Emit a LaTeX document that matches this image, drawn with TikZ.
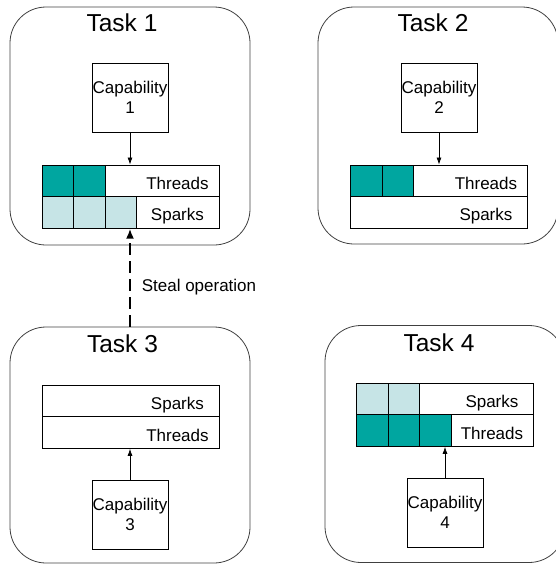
\documentclass[tikz,border=0pt]{standalone}
\usepackage{fontspec}
\setmainfont{Liberation Sans}
\usetikzlibrary{arrows.meta}

\definecolor{threadcol}{RGB}{0,166,160}
\definecolor{sparkcol}{RGB}{198,228,230}

\tikzset{
  task/.style={draw=black!75, line width=0.8pt, rounded corners=36pt, minimum width=240pt},
  tasktitle/.style={font=\fontsize{24.5pt}{28pt}\selectfont, inner sep=0pt},
  capbox/.style={draw, line width=0.8pt, minimum width=76pt, minimum height=69pt, align=center, inner sep=0pt, font=\fontsize{17pt}{20pt}\selectfont},
  queue/.style={draw, line width=0.9pt, minimum width=177pt, minimum height=31.6pt, inner sep=0pt},
  cell/.style={draw, line width=0.9pt, minimum width=31.6pt, minimum height=31.6pt, inner sep=0pt, anchor=west},
  lbl/.style={font=\fontsize{17pt}{20pt}\selectfont, inner sep=0pt},
  rowlbl/.style={lbl, anchor=base},
  link/.style={-{Latex[length=7pt,width=5pt]}, line width=0.7pt},
  stealarrow/.style={-{Latex[length=10pt,width=8pt]}, line width=2pt, dash pattern=on 12pt off 6pt}
}

\begin{document}
\begin{tikzpicture}[x=1pt,y=-1pt]
  \clip (0,0) rectangle (556,565);

  % the four tasks
  \node[task, minimum height=238pt] (task1) at (130,126) {};
  \node[task, minimum height=237pt] (task2) at (438,125.5) {};
  \node[task, minimum height=236pt] (task3) at (130,445) {};
  \node[task, minimum height=237pt] (task4) at (445,444) {};

  \node[tasktitle] (title1) at (122,22.5) {Task 1};
  \node[tasktitle] (title2) at (433,22.5) {Task 2};
  \node[tasktitle] (title3) at (122.5,344) {Task 3};
  \node[tasktitle] (title4) at (439,343) {Task 4};

  % capabilities
  \node[capbox] (cap1) at (130,97.5) {Capability\\1};
  \node[capbox] (cap2) at (439,97.5) {Capability\\2};
  \node[capbox] (cap3) at (130,514.5) {Capability\\3};
  \node[capbox] (cap4) at (445,512.5) {Capability\\4};

  % task 1 queues
  \node[queue] (thr1) at (130.5,180.8) {};
  \node[queue] (spk1) at (130.5,212.4) {};
  \foreach \i in {0,1}
    \node[cell, fill=threadcol] (thrcell1\i) at ([xshift=\i*31.6pt]thr1.west) {};
  \foreach \i in {0,1,2}
    \node[cell, fill=sparkcol] (spkcell1\i) at ([xshift=\i*31.6pt]spk1.west) {};
  \node[rowlbl] (thrlbl1) at ([xshift=-42pt,yshift=7.5pt]thr1.south east) {Threads};
  \node[rowlbl] (spklbl1) at ([xshift=-42pt,yshift=8pt]spk1.south east) {Sparks};

  % task 2 queues
  \node[queue] (thr2) at (439,180.8) {};
  \node[queue] (spk2) at (439,212.4) {};
  \foreach \i in {0,1}
    \node[cell, fill=threadcol] (thrcell2\i) at ([xshift=\i*31.6pt]thr2.west) {};
  \node[rowlbl] (thrlbl2) at ([xshift=-42pt,yshift=7.5pt]thr2.south east) {Threads};
  \node[rowlbl] (spklbl2) at ([xshift=-42pt,yshift=8pt]spk2.south east) {Sparks};

  % task 3 queues
  \node[queue] (spk3) at (130.5,401) {};
  \node[queue] (thr3) at (130.5,432.6) {};
  \node[rowlbl] (spklbl3) at ([xshift=-42pt,yshift=8pt]spk3.south east) {Sparks};
  \node[rowlbl] (thrlbl3) at ([xshift=-42pt,yshift=7.5pt]thr3.south east) {Threads};

  % task 4 queues
  \node[queue] (spk4) at (445,399) {};
  \node[queue] (thr4) at (445,430.6) {};
  \foreach \i in {0,1}
    \node[cell, fill=sparkcol] (spkcell4\i) at ([xshift=\i*31.6pt]spk4.west) {};
  \foreach \i in {0,1,2}
    \node[cell, fill=threadcol] (thrcell4\i) at ([xshift=\i*31.6pt]thr4.west) {};
  \node[rowlbl] (spklbl4) at ([xshift=-42pt,yshift=8pt]spk4.south east) {Sparks};
  \node[rowlbl] (thrlbl4) at ([xshift=-42pt,yshift=7.5pt]thr4.south east) {Threads};

  % links
  \draw[link] (cap1) -- (cap1 |- thr1.north);
  \draw[link] (cap2) -- (cap2 |- thr2.north);
  \draw[link] (cap3) -- (cap3 |- thr3.south);
  \draw[link] (cap4) -- (cap4 |- thr4.south);

  \draw[stealarrow] (task3.north) -- (task3.north |- spk1.south);
  \node[lbl] (steal) at (199,287) {Steal operation};
\end{tikzpicture}
\end{document}
